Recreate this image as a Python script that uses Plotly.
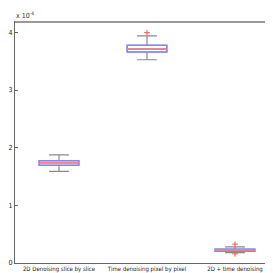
import plotly.graph_objects as go

categories = ["2D Denoising slice by slice", "Time denoising pixel by pixel", "2D + time denoising"]
positions = [1, 2, 3]
q1 = [1.695, 3.66, 0.203]
median = [1.74, 3.71, 0.225]
q3 = [1.775, 3.775, 0.24]
lower = [1.59, 3.525, 0.18]
upper = [1.876, 3.94, 0.28]
out_x = [2, 3, 3]
out_y = [3.995, 0.327, 0.158]

BW = 0.45
fig = go.Figure()
fig.add_trace(go.Box(x=positions, q1=q1, median=median, q3=q3, lowerfence=lower, upperfence=upper,
                     width=BW, whiskerwidth=0.5, line=dict(color="#8a8a8a", width=1.2),
                     fillcolor="rgba(0,0,0,0)", boxpoints=False, hoverinfo="skip"))
fig.add_trace(go.Box(x=positions, q1=q1, median=median, q3=q3, lowerfence=q1, upperfence=q3,
                     width=BW, whiskerwidth=0, line=dict(color="#7f86ff", width=1.5),
                     fillcolor="rgba(0,0,0,0)", boxpoints=False, hoverinfo="skip"))
mx, my = [], []
for p, m in zip(positions, median):
    mx += [p - BW / 2, p + BW / 2, None]
    my += [m, m, None]
fig.add_trace(go.Scatter(x=mx, y=my, mode="lines", line=dict(color="#ff7f7f", width=1.5)))
fig.add_trace(go.Scatter(x=out_x, y=out_y, mode="markers",
                         marker=dict(symbol="cross-thin", size=4, line=dict(color="#ff5050", width=1))))

FONT = "Liberation Sans Narrow, Arial Narrow, DejaVu Sans Condensed, Liberation Sans"
fig.update_layout(
    width=273, height=273, showlegend=False,
    margin=dict(l=7, r=2, t=14, b=18),
    plot_bgcolor="white", paper_bgcolor="white",
    font=dict(family=FONT, size=6, color="#222"),
    xaxis=dict(range=[0.5, 3.5], tickvals=positions, ticktext=categories, ticks="", showgrid=False,
               zeroline=False, showline=True, mirror=True, linecolor="#666", linewidth=1,
               tickangle=0, automargin=False, ticklabelstandoff=0, tickfont=dict(family=FONT, size=6)),
    yaxis=dict(range=[0, 4.18], tickvals=[0, 1, 2, 3, 4], ticks="inside", ticklen=3, tickcolor="#666",
               showgrid=False, zeroline=False, showline=True, mirror=True, linecolor="#666", linewidth=1,
               automargin=False, tickfont=dict(family=FONT, size=7)),
    annotations=[dict(text="x 10<sup>-4</sup>", x=0, y=1, xref="paper", yref="paper", xanchor="left",
                      yanchor="bottom", showarrow=False, font=dict(family=FONT, size=7, color="#333"),
                      xshift=-1, yshift=0)],
)
fig.add_shape(type="line", xref="paper", yref="paper", x0=0, x1=1, y0=1, y1=1,
              line=dict(color="#999", width=2))
fig.write_html("out.html")
